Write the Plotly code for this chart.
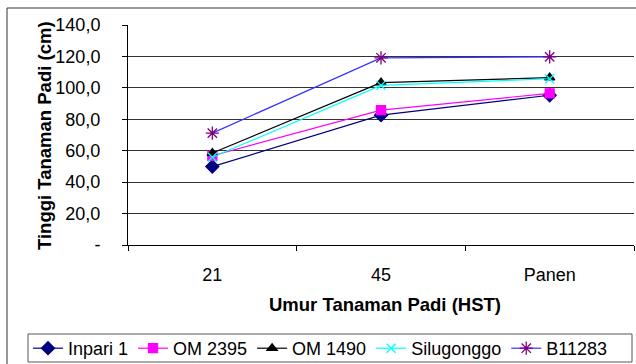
import plotly.graph_objects as go

categories = ["21", "45", "Panen"]
inpari1 = [49.9, 82.6, 95.3]
om2395 = [56.8, 85.8, 96.5]
om1490 = [58.5, 103.3, 106.5]
silugonggo = [55.8, 101.6, 105.8]
b11283 = [71.2, 119.1, 119.7]
ytick_vals = [0, 20, 40, 60, 80, 100, 120, 140]
ytick_text = ["-", "20,0", "40,0", "60,0", "80,0", "100,0", "120,0", "140,0"]

FONT = "Arial"

series = [
    ("Inpari 1", inpari1, "#000080", "#000080", "diamond", 10),
    ("OM 2395", om2395, "#FF00FF", "#FF00FF", "square", 9),
    ("OM 1490", om1490, "#000000", "#000000", "triangle-up", 9),
    ("Silugonggo", silugonggo, "#00FFFF", "#00FFFF", "x-thin-open", 9),
    ("B11283", b11283, "#3333FF", "#800080", "asterisk-open", 11),
]

fig = go.Figure()
for name, vals, lc, mc, sym, size in series:
    fig.add_trace(go.Scatter(
        x=categories, y=vals, name=name, mode="lines+markers",
        line=dict(color=lc, width=1.2),
        marker=dict(symbol=sym, size=size, color=mc, line=dict(color=mc, width=1.3)),
    ))

L, R, T, B = 128, 2, 25, 119
W, H = 636, 364
pw, ph = W - L - R, H - T - B

def px(x):
    return (x - L) / pw

def py(y):
    return (H - B - y) / ph

fig.update_layout(
    width=W, height=H,
    margin=dict(l=L, r=R, t=T, b=B, autoexpand=False),
    paper_bgcolor="white", plot_bgcolor="white",
    font=dict(family=FONT, size=18, color="black"),
    showlegend=True,
    legend=dict(
        orientation="h", x=px(28), y=py(330), xanchor="left", yanchor="top",
        borderwidth=0, bgcolor="rgba(0,0,0,0)", font=dict(size=18),
        itemwidth=30, tracegroupgap=0,
    ),
    xaxis=dict(
        type="category", showgrid=False, showline=True, linecolor="black", linewidth=1,
        ticks="outside", ticklen=5, tickcolor="black", tickson="boundaries",
        tickfont=dict(size=18), ticklabelstandoff=13, range=[-0.5, 2.5],
    ),
    yaxis=dict(
        range=[0, 140], tickvals=ytick_vals, ticktext=ytick_text,
        showgrid=True, gridcolor="#333333", gridwidth=1,
        showline=True, linecolor="black", linewidth=1,
        ticks="outside", ticklen=5, tickcolor="black",
        tickfont=dict(size=18), zeroline=False, ticklabelstandoff=18,
    ),
    annotations=[
        dict(text="<b>Tinggi Tanaman Padi (cm)</b>", x=px(44), y=py(136), xref="paper", yref="paper",
             showarrow=False, textangle=-90, font=dict(size=18.5), xanchor="center", yanchor="middle"),
        dict(text="<b>Umur Tanaman Padi (HST)</b>", x=px(385), y=py(304), xref="paper", yref="paper",
             showarrow=False, font=dict(size=18.5), xanchor="center", yanchor="middle"),
    ],
    shapes=[
        dict(type="rect", xref="paper", yref="paper", x0=px(7), y0=py(400), x1=px(700), y1=py(8),
             line=dict(color="#333333", width=1), fillcolor="rgba(0,0,0,0)", layer="below"),
        dict(type="rect", xref="paper", yref="paper", x0=px(28), y0=py(362), x1=px(632), y1=py(334),
             line=dict(color="#555555", width=1), fillcolor="rgba(0,0,0,0)", layer="below"),
    ],
)

fig.write_html("out.html")
